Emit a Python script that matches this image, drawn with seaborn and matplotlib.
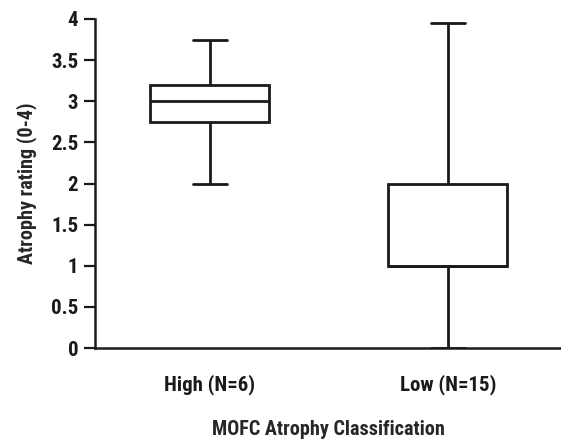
import matplotlib
matplotlib.use("Agg")
import matplotlib.pyplot as plt
from matplotlib import font_manager
import seaborn as sns
import numpy as np
import pandas as pd

# Five-number summaries (min, Q1, median, Q3, max)
groups = ["High (N=6)", "Low (N=15)"]
high_summary = [2.0, 2.75, 3.0, 3.2, 3.75]
low_summary = [0.0, 1.0, 1.0, 2.0, 3.95]
y_ticks = [0, 0.5, 1, 1.5, 2, 2.5, 3, 3.5, 4]
y_tick_labels = ["0", "0.5", "1", "1.5", "2", "2.5", "3", "3.5", "4"]

df = pd.DataFrame({
    "group": [groups[0]] * len(high_summary) + [groups[1]] * len(low_summary),
    "value": high_summary + low_summary,
})

sns.set_style("ticks")
available = {f.name for f in font_manager.fontManager.ttflist}
fam = [f for f in ["Liberation Sans Narrow", "Roboto Condensed", "Roboto", "DejaVu Sans"]
       if f in available]
plt.rcParams["font.family"] = fam
W = "heavy"

fig = plt.figure(figsize=(5.61, 4.42), dpi=100)
ax = fig.add_axes([95 / 561, 1 - 348 / 442, 1 - 95 / 561, (348 - 19) / 442])

sns.boxplot(data=df, x="group", y="value", order=groups, whis=np.inf,
            width=0.5, color="white", linecolor="#1a1a1a", linewidth=2.0,
            capwidths=0.14, ax=ax)

ax.set_xlim(-0.483, 1.475)
ax.set_ylim(0, 4)
ax.set_yticks(y_ticks)
ax.set_yticklabels(y_tick_labels, fontsize=15, fontweight=W, color="#1a1a1a")
ax.set_xticks([0, 1])
ax.set_xticklabels(groups, fontsize=15, fontweight=W, color="#1a1a1a")
ax.tick_params(axis="x", length=0, pad=19)
ax.tick_params(axis="y", length=8, width=1.6, color="#1a1a1a", pad=4)
for s in ["top", "right"]:
    ax.spines[s].set_visible(False)
for s in ["left", "bottom"]:
    ax.spines[s].set_linewidth(1.8)
    ax.spines[s].set_color("#1a1a1a")

ax.set_ylabel("Atrophy rating (0-4)", fontsize=14.5, fontweight=W, labelpad=10)
ax.set_xlabel("MOFC Atrophy Classification", fontsize=14.5, fontweight=W, labelpad=18)

fig.savefig("out.png", dpi=100)
